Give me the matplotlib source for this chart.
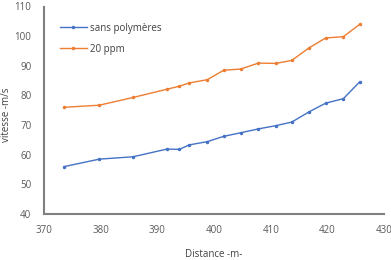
import matplotlib
matplotlib.use("Agg")
import matplotlib.pyplot as plt

distance = [373.6, 379.75, 385.7, 391.7, 393.9, 395.6, 398.8, 401.7, 404.7, 407.8, 410.9, 413.7, 416.8, 419.7, 422.8, 425.7]
sans_polymeres = [56.0, 58.5, 59.3, 61.9, 61.8, 63.3, 64.4, 66.2, 67.4, 68.7, 69.8, 71.0, 74.5, 77.4, 78.9, 84.6]
ppm20 = [76.0, 76.7, 79.3, 82.1, 83.1, 84.2, 85.3, 88.5, 88.9, 90.9, 90.8, 91.8, 96.1, 99.4, 99.8, 104.0]
xticks = [370, 380, 390, 400, 410, 420, 430]
yticks = [40, 50, 60, 70, 80, 90, 100, 110]

plt.rcParams['font.family'] = ['Open Sans', 'DejaVu Sans']

fig = plt.figure(figsize=(3.91, 2.60), dpi=100)
ax = fig.add_axes([0.1125, 0.177, 0.87, 0.798])

ax.plot(distance, sans_polymeres, color='#4472C4', lw=1.0, marker='.', ms=3, label='sans polymères')
ax.plot(distance, ppm20, color='#ED7D31', lw=1.0, marker='.', ms=3, label='20 ppm')

ax.set_xlim(370, 430)
ax.set_ylim(40, 110)
ax.set_xticks(xticks)
ax.set_yticks(yticks)
ax.tick_params(axis='x', length=0, labelsize=7, colors='#595959', pad=8)
ax.tick_params(axis='y', length=0, labelsize=7, colors='#595959', pad=9)
for s in ['top', 'right']:
    ax.spines[s].set_visible(False)
for s in ['left', 'bottom']:
    ax.spines[s].set_color('#808080')
    ax.spines[s].set_linewidth(1.5)

ax.set_xlabel('Distance -m-', fontsize=7, color='#404040', labelpad=9)
ax.set_ylabel('vitesse -m/s', fontsize=7, color='#404040')
ax.yaxis.set_label_coords(-0.094, 0.48)

leg = ax.legend(loc='upper left', bbox_to_anchor=(0.02, 0.965), frameon=False, fontsize=7,
                handlelength=2.8, handletextpad=0.3, labelspacing=1.05, labelcolor='#404040')

fig.savefig('out.png', dpi=100)
